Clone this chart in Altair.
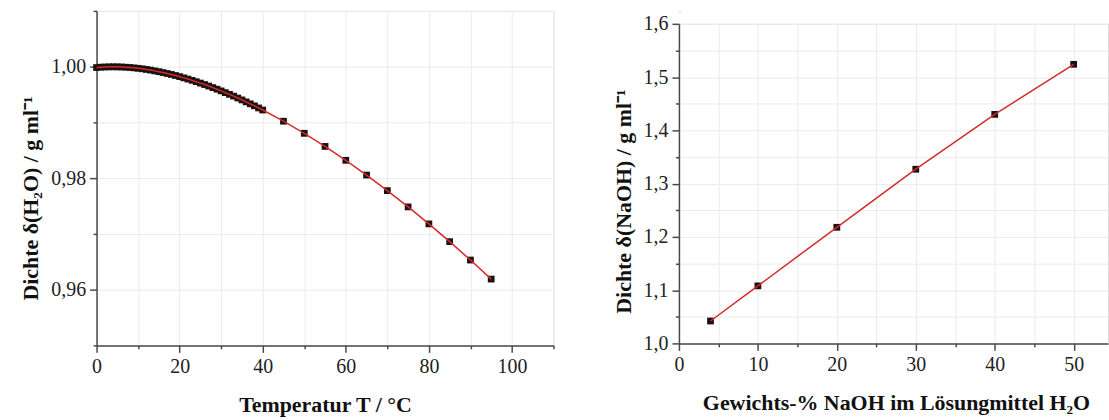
import altair as alt
import pandas as pd

# ---------------- data ----------------
temp_c = [0, 1, 2, 3, 4, 5, 6, 7, 8, 9, 10, 11, 12, 13, 14, 15, 16, 17, 18, 19, 20,
          21, 22, 23, 24, 25, 26, 27, 28, 29, 30, 31, 32, 33, 34, 35, 36, 37, 38, 39, 40,
          45, 50, 55, 60, 65, 70, 75, 80, 85, 90, 95]
rho_h2o = [0.99984, 0.99990, 0.99994, 0.99996, 0.99997, 0.99996, 0.99994, 0.99990,
           0.99985, 0.99978, 0.99970, 0.99961, 0.99950, 0.99938, 0.99924, 0.99910,
           0.99894, 0.99877, 0.99860, 0.99841, 0.99821, 0.99799, 0.99777, 0.99754,
           0.99730, 0.99705, 0.99679, 0.99652, 0.99624, 0.99595, 0.99565, 0.99534,
           0.99503, 0.99471, 0.99437, 0.99403, 0.99368, 0.99333, 0.99297, 0.99259,
           0.99222, 0.99021, 0.98804, 0.98569, 0.98320, 0.98055, 0.97776, 0.97484,
           0.97179, 0.96861, 0.96531, 0.96189]

naoh_pct = [4, 10, 20, 30, 40, 50]
rho_naoh = [1.042, 1.108, 1.218, 1.327, 1.430, 1.524]

left_x_major = [0, 20, 40, 60, 80, 100]
left_x_minor = [10, 30, 50, 70, 90, 110]
left_y_major = [0.96, 0.98, 1.00]
left_y_minor = [0.95, 0.97, 0.99, 1.01]
right_x_major = [0, 10, 20, 30, 40, 50]
right_x_minor = [5, 15, 25, 35, 45]
right_y_major = [1.0, 1.1, 1.2, 1.3, 1.4, 1.5, 1.6]
right_y_minor = [1.05, 1.15, 1.25, 1.35, 1.45, 1.55]

left_x_title = "Temperatur T / °C"
left_y_title = "Dichte δ(H₂O) / g ml⁻¹"
right_x_title = "Gewichts-% NaOH im Lösungmittel H₂O"
right_y_title = "Dichte δ(NaOH) / g ml⁻¹"

df_left = pd.DataFrame({"T": temp_c, "rho": rho_h2o})
df_right = pd.DataFrame({"w": naoh_pct, "rho": rho_naoh})

# ---------------- styles ----------------
FONT = "Liberation Serif"
AX = "#4a4a4a"
GRID = "#ebebeb"
LINE = "#d42a2a"
MARK = "#1c1010"


def main_axis(values, orient, title, fmt, title_padding, **kw):
    return alt.Axis(
        values=values, orient=orient, title=title,
        labelExpr=f"replace(format(datum.value, '{fmt}'), '.', ',')",
        grid=True, gridColor=GRID, gridWidth=1,
        domainColor=AX, domainWidth=1.5,
        tickColor=AX, tickWidth=1.5, tickSize=7,
        labelFont=FONT, labelFontSize=20, labelColor="#222222",
        labelPadding=4, labelOverlap=False, labelFlush=False,
        titleFont=FONT, titleFontSize=22, titleFontWeight="bold",
        titleColor="#111111", titlePadding=title_padding, **kw)


def minor_axis(values, orient):
    return alt.Axis(
        values=values, orient=orient, title=None, labels=False,
        domain=False, ticks=True, tickColor=AX, tickWidth=1.5, tickSize=3.5,
        grid=True, gridColor=GRID, gridWidth=1)


def panel(df, xf, yf, xdom, ydom, xmaj, xmin, ymaj, ymin, xt, yt, yfmt,
          title_y, title_x=None):
    xs = alt.Scale(domain=xdom, nice=False, zero=False)
    ys = alt.Scale(domain=ydom, nice=False, zero=False)
    xkw = {}
    if title_x is not None:
        xkw["titleX"] = title_x
    pts = alt.Chart(df).mark_square(size=46, color=MARK, opacity=1).encode(
        x=alt.X(xf, type="quantitative", scale=xs,
                axis=main_axis(xmaj, "bottom", xt, "d", 18, **xkw)),
        y=alt.Y(yf, type="quantitative", scale=ys,
                axis=main_axis(ymaj, "left", yt, yfmt, 8, titleY=title_y)),
    )
    line = alt.Chart(df).mark_line(color=LINE, strokeWidth=1.5).encode(
        x=alt.X(xf, type="quantitative", scale=xs, axis=minor_axis(xmin, "bottom")),
        y=alt.Y(yf, type="quantitative", scale=ys, axis=minor_axis(ymin, "left")),
    )
    return pts, line


lp, ll = panel(df_left, "T", "rho", [0, 110], [0.95, 1.01],
               left_x_major, left_x_minor, left_y_major, left_y_minor,
               left_x_title, left_y_title, ".2f", 188)
left = alt.layer(lp, ll).resolve_axis(x="independent", y="independent").properties(
    width=459, height=336)

rp, rl = panel(df_right, "w", "rho", [0, 54.35], [1.0, 1.6],
               right_x_major, right_x_minor, right_y_major, right_y_minor,
               right_x_title, right_y_title, ".1f", 178, title_x=218)
right = alt.layer(rp, rl).resolve_axis(x="independent", y="independent").properties(
    width=431, height=321)

# tiny invisible cell above the right panel so that its plot starts lower
spacer = alt.Chart(df_right).mark_rule(opacity=0, strokeWidth=0).encode(
    x=alt.value(0), x2=alt.value(1), y=alt.value(0)
).properties(width=1, height=1)

right_col = alt.vconcat(spacer, right, spacing=0)

chart = alt.hconcat(left, right_col, spacing=56).properties(
    padding={"left": 19, "top": 8, "right": 0, "bottom": 0}
).configure_view(stroke=None).configure(background="white")

chart.save("out.html", embed_options={"renderer": "svg", "actions": False})
